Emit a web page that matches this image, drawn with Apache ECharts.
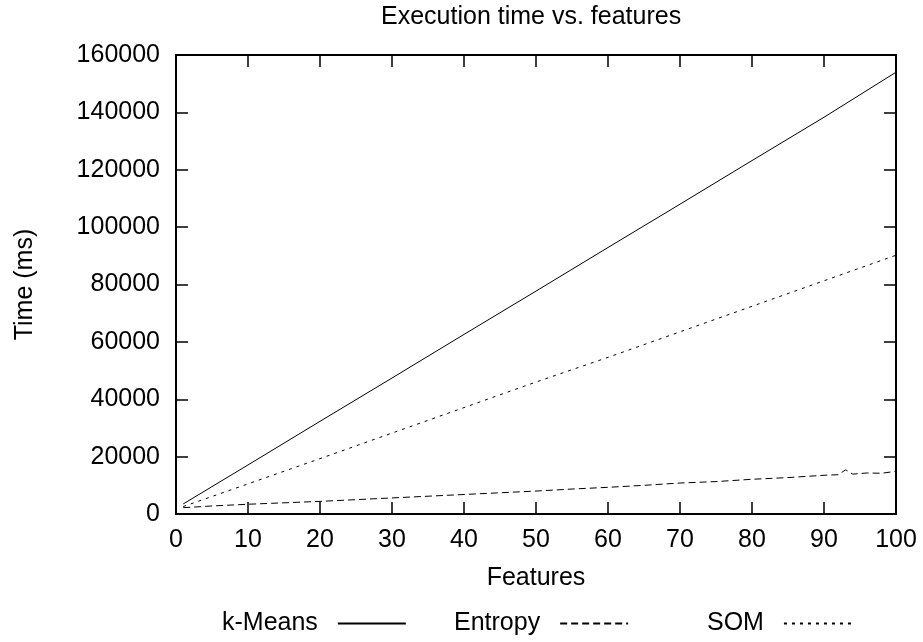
<!DOCTYPE html>
<html>
<head>
<meta charset="utf-8">
<script src="https://cdn.jsdelivr.net/npm/echarts@6/dist/echarts.min.js"></script>
<style>
  html, body { margin: 0; padding: 0; background: #fff; }
  #chart { width: 923px; height: 642px; }
</style>
</head>
<body>
<div id="chart"></div>
<script>
// values (features -> time in ms)
const kmeansX = [1, 10, 20, 30, 40, 50, 60, 70, 80, 90, 100];
const kmeansY = [3500, 17100, 32300, 47400, 62600, 77700, 92900, 108000, 123200, 138300, 154000];

const entropyX = [1, 5, 10, 15, 20, 25, 30, 35, 40, 45, 50, 55, 60, 65, 70, 75, 80, 85, 90, 92, 93, 94, 96, 98, 100];
const entropyY = [2200, 2800, 3400, 3900, 4400, 5000, 5600, 6200, 6800, 7400, 8000, 8700, 9300, 10000, 10800, 11300, 12100, 12700, 13500, 13700, 15400, 13900, 14300, 14200, 14900];

const somX = [1, 10, 20, 30, 40, 50, 60, 70, 80, 90, 100];
const somY = [2600, 10500, 19300, 28200, 37100, 46000, 54600, 63500, 72400, 81300, 90200];

const FONT = "'Liberation Sans', Arial, Helvetica, sans-serif";

const pairs = (xs, ys) => xs.map((x, i) => [x, ys[i]]);

const chart = echarts.init(document.getElementById("chart"), null, { renderer: "canvas" });

const border = { show: true, onZero: false, lineStyle: { color: "#000", width: 2 } };
const ticks = { show: true, inside: true, length: 12, lineStyle: { color: "#000", width: 1.5 } };
const txt = { fontFamily: FONT, fontSize: 25, color: "#000" };

const lineSeries = (name, data, type) => ({
    name,
    type: "line",
    data,
    xAxisIndex: 0,
    yAxisIndex: 0,
    symbol: "none",
    showSymbol: false,
    animation: false,
    lineStyle: { color: "#000", width: 1, type },
    itemStyle: { color: "#000" },
});

// gnuplot style key: text first, sample line after it
const legendAt = (name, left) => ({
    data: [name],
    left,
    top: 611,
    orient: "horizontal",
    align: "right",
    itemWidth: 68,
    itemHeight: 14,
    padding: 0,
    itemStyle: { opacity: 0 },
    textStyle: { ...txt, padding: [0, 15, 0, 0] },
});

chart.setOption({
    backgroundColor: "#fff",
    animation: false,
    title: {
        text: "Execution time vs. features",
        left: 381,
        top: 5,
        padding: 0,
        textStyle: { ...txt, fontWeight: "normal" },
    },
    legend: [
        legendAt("k-Means", 222),
        legendAt("Entropy", 454),
        legendAt("SOM", 707),
    ],
    grid: { left: 176, right: 27, top: 55, bottom: 128, containLabel: false },
    xAxis: [
        {
            type: "value",
            position: "bottom",
            min: 0,
            max: 100,
            interval: 10,
            axisLine: border,
            axisTick: ticks,
            axisLabel: { ...txt, margin: 14 },
            splitLine: { show: false },
            name: "Features",
            nameLocation: "middle",
            nameGap: 52,
            nameTextStyle: txt,
        },
        {
            type: "value",
            position: "top",
            min: 0,
            max: 100,
            interval: 10,
            axisLine: border,
            axisTick: ticks,
            axisLabel: { show: false },
            splitLine: { show: false },
        },
    ],
    yAxis: [
        {
            type: "value",
            position: "left",
            min: 0,
            max: 160000,
            interval: 20000,
            axisLine: border,
            axisTick: ticks,
            axisLabel: { ...txt, margin: 16, formatter: (v) => String(v) },
            splitLine: { show: false },
            name: "Time (ms)",
            nameLocation: "middle",
            nameGap: 138,
            nameRotate: 90,
            nameTextStyle: txt,
        },
        {
            type: "value",
            position: "right",
            min: 0,
            max: 160000,
            interval: 20000,
            axisLine: border,
            axisTick: ticks,
            axisLabel: { show: false },
            splitLine: { show: false },
        },
    ],
    series: [
        lineSeries("k-Means", pairs(kmeansX, kmeansY), "solid"),
        lineSeries("Entropy", pairs(entropyX, entropyY), [7, 4]),
        lineSeries("SOM", pairs(somX, somY), [3, 5]),
    ],
});
</script>
</body>
</html>
